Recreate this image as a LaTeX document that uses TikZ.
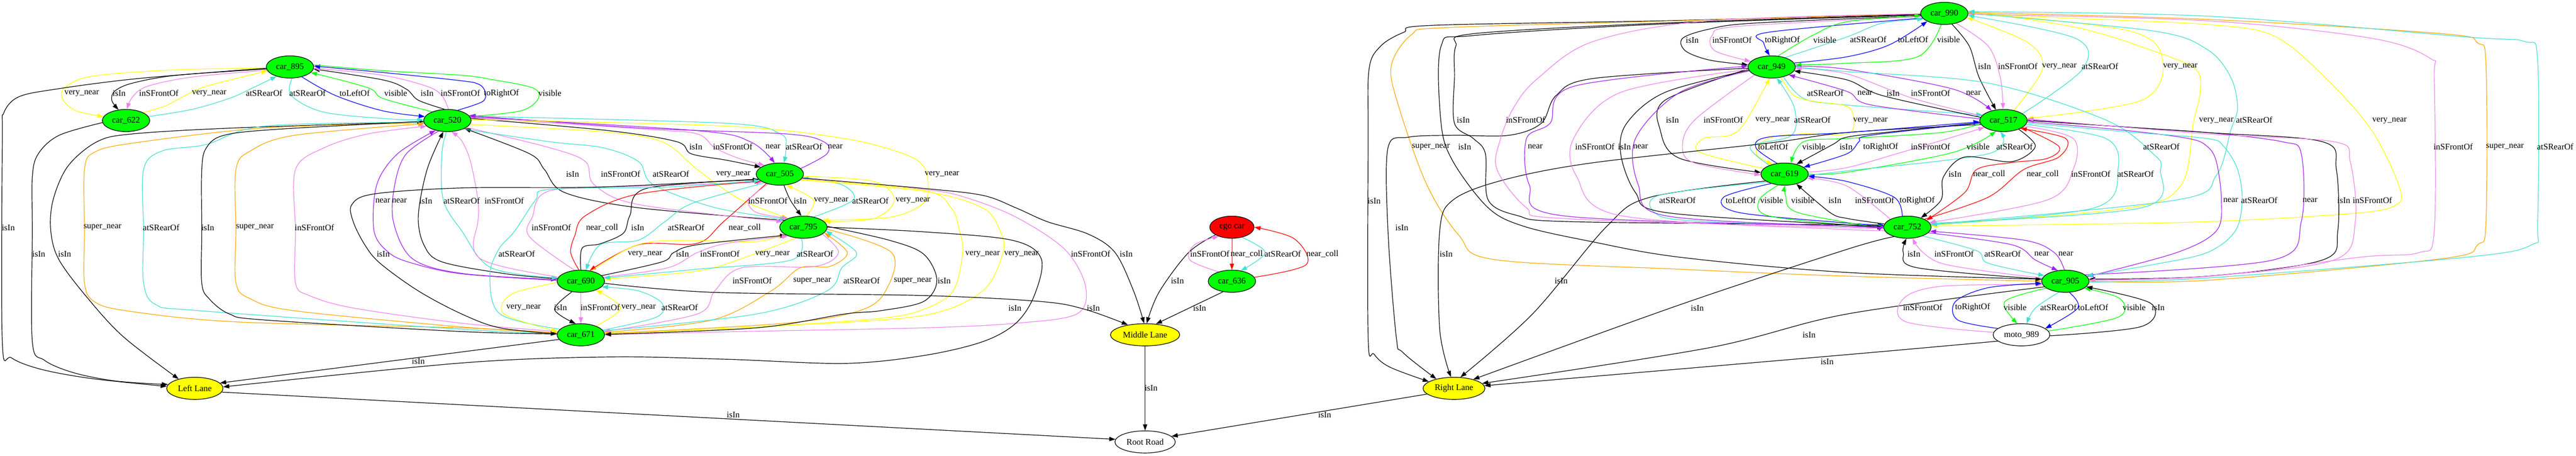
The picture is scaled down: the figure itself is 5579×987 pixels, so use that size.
\documentclass[tikz,border=0pt]{standalone}
\usepackage{fontspec}
\setmainfont{Liberation Serif}
\usetikzlibrary{shapes.geometric,arrows.meta}
\pgfdeclarelayer{edges}
\pgfsetlayers{edges,main}
\definecolor{cGrn}{HTML}{00FF00}
\definecolor{cYel}{HTML}{FFFF00}
\definecolor{cRed}{HTML}{FF0000}
\definecolor{cVio}{HTML}{EE82EE}
\definecolor{cTur}{HTML}{40E0D0}
\definecolor{cOra}{HTML}{FFA500}
\definecolor{cPur}{HTML}{A020F0}
\definecolor{cBlu}{HTML}{0000FF}
\newcounter{lbc}
\newcommand{\myedge}[4]{%
 \begin{pgfonlayer}{edges}\draw[#1] plot[smooth,tension=0.55] coordinates {#2};\end{pgfonlayer}%
 \stepcounter{lbc}\node[lbl] (lab\arabic{lbc}) at (#3) {#4};}
\begin{document}
\begin{tikzpicture}[x=0.75pt,y=-0.75pt,
 nd/.style={ellipse,draw,line width=1pt,inner sep=0pt,minimum height=36pt,font=\fontsize{14}{16}\selectfont},
 car/.style={nd,fill=cGrn,minimum width=77pt},
 lane/.style={nd,fill=cYel},
 lbl/.style={inner sep=0pt,font=\fontsize{14}{16}\selectfont},
 ar/.style={line width=1pt,-{Triangle[length=10pt,width=7pt]}},
 Bk/.style={ar,draw=black}, Yl/.style={ar,draw=cYel}, Vi/.style={ar,draw=cVio},
 Tq/.style={ar,draw=cTur}, Or/.style={ar,draw=cOra}, Pu/.style={ar,draw=cPur},
 Bl/.style={ar,draw=cBlu}, Gr/.style={ar,draw=cGrn}, Rd/.style={ar,draw=cRed}]
\useasboundingbox (0,0) rectangle (5579,987);
\begin{pgfonlayer}{edges}\fill[white] (0,0) rectangle (5579,987);\end{pgfonlayer}
% nodes
\node[car] (n895) at (628,145) {car\_895};
\node[car] (n622) at (273,261) {car\_622};
\node[car] (n520) at (969,261) {car\_520};
\node[car] (n505) at (1689,377) {car\_505};
\node[car] (n795) at (1740,492) {car\_795};
\node[car] (n690) at (1258,609) {car\_690};
\node[car] (n671) at (1258,725) {car\_671};
\node[lane,minimum width=91.5pt] (nLL) at (422,841) {Left Lane};
\node[nd,fill=cRed,minimum width=72pt] (ego) at (2668,492) {ego car};
\node[car] (n636) at (2668,609) {car\_636};
\node[lane,minimum width=112.5pt] (nML) at (2480,725) {Middle Lane};
\node[nd,fill=white,minimum width=98pt] (nRR) at (2480,957) {Root Road};
\node[car] (n990) at (4211,29) {car\_990};
\node[car] (n949) at (3837,145) {car\_949};
\node[car] (n517) at (4339,261) {car\_517};
\node[car] (n619) at (3865,377) {car\_619};
\node[car] (n752) at (4131,492) {car\_752};
\node[car] (n905) at (4473,609) {car\_905};
\node[nd,fill=white,minimum width=92pt] (moto) at (4378,725) {moto\_989};
\node[lane,minimum width=100.5pt] (nRL) at (3149,841) {Right Lane};
% ---- left cluster
\myedge{Yl}{(n895.183) (383,151) (200,165) (140,190) (136,215) (165,240) (n622.170)}{177,202}{very\_near}
\myedge{Bk}{(n895.185) (383,163) (287,180) (249,197) (242,217) (n622.125)}{258,202}{isIn}
\myedge{Vi}{(n895.188) (415,167) (319,187) (287,210) (n622.85)}{344,202}{inSFrontOf}
\myedge{Yl}{(n622.25) (357,230) (395,210) (446,187) (n895.190)}{453,202}{very\_near}
\myedge{Tq}{(n622.10) (415,237) (497,213) (548,190) (n895.215)}{572,202}{atSRearOf}
\myedge{Bk}{(n895.183) (300,170) (121,193) (40,210) (8,245) (5,300) (5,740) (25,775) (90,800) (200,820) (nLL.176)}{18,493}{isIn}
\myedge{Bk}{(n622.185) (128,293) (83,333) (70,383) (70,500) (70,740) (96,780) (159,807) (250,825) (nLL.172)}{84,550}{isIn}
\myedge{Bk}{(n520.183) (510,277) (287,290) (210,307) (147,360) (115,433) (110,500) (128,563) (191,647) (268,730) (nLL.150)}{140,550}{isIn}
\myedge{Or}{(n520.186) (574,277) (287,310) (204,330) (183,367) (183,500) (183,613) (204,653) (274,673) (510,697) (1000,710) (n671.175)}{222,493}{super\_near}
\myedge{Tq}{(n520.184) (574,273) (446,313) (351,327) (311,367) (311,500) (311,613) (338,660) (434,673) (1000,713) (n671.177)}{349,493}{atSRearOf}
\myedge{Bk}{(n671.178) (1000,718) (574,693) (497,680) (453,647) (437,613) (437,500) (437,367) (447,320) (485,293) (600,280) (n520.182)}{450,493}{isIn}
\myedge{Or}{(n671.176) (1000,708) (638,673) (542,647) (511,613) (511,500) (511,367) (542,327) (638,293) (n520.188)}{552,493}{super\_near}
\myedge{Vi}{(n671.172) (1000,700) (765,667) (670,640) (640,613) (640,500) (640,367) (702,320) (797,290) (n520.195)}{681,493}{inSFrontOf}
\myedge{Pu}{(n690.178) (1000,593) (893,570) (842,547) (810,500) (816,400) (861,333) (n520.220)}{829,435}{near}
\myedge{Pu}{(n520.230) (880,333) (855,400) (852,480) (893,560) (1000,592) (n690.176)}{865,435}{near}
\myedge{Bk}{(n690.174) (1096,593) (957,567) (918,530) (906,467) (925,367) (n520.250)}{922,435}{isIn}
\myedge{Tq}{(n520.265) (957,333) (960,433) (1000,500) (1064,580) (n690.172)}{1000,435}{atSRearOf}
\myedge{Vi}{(n690.170) (1100,580) (1040,560) (1025,530) (1035,480) (1035,433) (1019,350) (1000,305) (n520.290)}{1092,435}{inSFrontOf}
\myedge{Tq}{(n895.280) (631,207) (702,243) (850,258) (n520.178)}{666,202}{atSRearOf}
\myedge{Bl}{(n895.320) (727,207) (829,240) (n520.170)}{768,202}{toLeftOf}
\myedge{Gr}{(n520.150) (829,213) (797,190) (n895.345)}{857,202}{visible}
\myedge{Bk}{(n520.105) (906,217) (880,193) (829,173) (n895.355)}{925,202}{isIn}
\myedge{Vi}{(n520.85) (957,207) (925,187) (829,163) (n895.357)}{997,202}{inSFrontOf}
\myedge{Bl}{(n520.45) (1045,220) (1051,200) (1038,183) (1000,175) (829,157) (n895.2)}{1086,202}{toRightOf}
\myedge{Gr}{(n895.5) (829,153) (1000,163) (1064,172) (1153,190) (1166,213) (1128,240) (n520.10)}{1191,202}{visible}
\myedge{Bk}{(n520.5) (1319,283) (1466,307) (1497,333) (1574,347) (n505.160)}{1507,318}{isIn}
\myedge{Vi}{(n520.7) (1400,280) (1510,290) (1548,320) (1600,343) (n505.150)}{1587,318}{inSFrontOf}
\myedge{Pu}{(n520.9) (1510,283) (1625,307) (n505.115)}{1674,318}{near}
\myedge{Tq}{(n520.11) (1574,267) (1690,290) (1702,320) (n505.70)}{1741,318}{atSRearOf}
\myedge{Pu}{(n505.15) (1791,333) (1784,307) (1702,290) (1383,277) (n520.13)}{1809,318}{near}
\myedge{Bk}{(n795.160) (1383,450) (1223,417) (1179,367) (1147,333) (n520.335)}{1240,377}{isIn}
\myedge{Vi}{(n520.340) (1191,320) (1268,350) (1287,400) (1383,443) (n795.165)}{1344,377}{inSFrontOf}
\myedge{Tq}{(n520.332) (1191,307) (1306,320) (1383,350) (1415,400) (1550,450) (n795.155)}{1453,377}{atSRearOf}
\myedge{Yl}{(n520.350) (1300,285) (1434,307) (1510,367) (1600,430) (n795.150)}{1588,377}{very\_near}
\myedge{Yl}{(n520.2) (1574,273) (1829,300) (1957,333) (2000,360) (2010,400) (2000,440) (1930,470) (n795.20)}{2040,377}{very\_near}
\myedge{Vi}{(n690.120) (1147,513) (1153,470) (1191,413) (1400,403) (n505.205)}{1194,493}{inSFrontOf}
\myedge{Rd}{(n690.100) (1236,547) (1245,510) (1268,467) (1383,420) (n505.200)}{1304,493}{near\_coll}
\myedge{Bk}{(n690.90) (1261,537) (1300,528) (1350,505) (1364,467) (1400,408) (n505.195)}{1381,493}{isIn}
\myedge{Tq}{(n505.210) (1500,440) (1440,480) (1383,520) (1300,530) (n690.65)}{1486,493}{atSRearOf}
\myedge{Rd}{(n505.215) (1567,480) (1510,527) (1383,530) (n690.50)}{1613,493}{near\_coll}
\myedge{Vi}{(n505.220) (1622,433) (1638,460) (n795.150)}{1663,435}{inSFrontOf}
\myedge{Bk}{(n505.290) (1712,434) (n795.100)}{1733,435}{isIn}
\myedge{Yl}{(n795.75) (1762,433) (n505.300)}{1800,435}{very\_near}
\myedge{Tq}{(n795.45) (1848,433) (1823,400) (n505.350)}{1885,435}{atSRearOf}
\myedge{Yl}{(n505.355) (1893,393) (1937,433) (1893,473) (n795.15)}{1977,435}{very\_near}
\myedge{Bk}{(n505.193) (1300,405) (1000,407) (810,420) (762,443) (765,480) (790,530) (823,570) (906,630) (1000,680) (1083,710) (n671.178)}{830,550}{isIn}
\myedge{Tq}{(n671.165) (1083,680) (1061,597) (1080,540) (1115,500) (1160,433) (1191,410) (1446,405) (n505.198)}{1119,550}{atSRearOf}
\myedge{Bk}{(n505.350) (2000,408) (2128,423) (2200,450) (2268,480) (2357,507) (2415,547) (2455,630) (nML.95)}{2439,550}{isIn}
\myedge{Vi}{(n505.348) (2000,410) (2089,427) (2200,470) (2306,540) (2351,620) (2332,680) (2200,700) (2000,710) (1600,718) (n671.0)}{2362,550}{inSFrontOf}
\myedge{Yl}{(n505.346) (2000,412) (2060,450) (2078,500) (2085,547) (2064,630) (2000,670) (1900,690) (1600,710) (n671.4)}{2128,550}{very\_near}
\myedge{Yl}{(n505.344) (2000,414) (2128,450) (2166,500) (2172,547) (2128,630) (2000,683) (1700,705) (n671.2)}{2212,550}{very\_near}
\myedge{Yl}{(n690.45) (1357,540) (1415,523) (1510,521) (1638,523) (n795.200)}{1397,550}{very\_near}
\myedge{Bk}{(n690.15) (1434,567) (1459,547) (1510,530) (n795.205)}{1478,550}{isIn}
\myedge{Vi}{(n690.10) (1446,580) (1510,547) (1574,527) (n795.210)}{1559,550}{inSFrontOf}
\myedge{Yl}{(n795.235) (1606,560) (1510,587) (n690.5)}{1673,550}{very\_near}
\myedge{Tq}{(n795.260) (1714,563) (1510,583) (n690.8)}{1765,550}{atSRearOf}
\myedge{Yl}{(n690.183) (1108,637) (1092,680) (n671.172)}{1134,666}{very\_near}
\myedge{Bk}{(n690.230) (1201,670) (n671.115)}{1214,666}{isIn}
\myedge{Vi}{(n690.270) (n671.90)}{1300,666}{inSFrontOf}
\myedge{Yl}{(n671.30) (1344,667) (n690.330)}{1383,666}{very\_near}
\myedge{Tq}{(n671.12) (1421,687) (1434,657) (1383,630) (n690.345)}{1472,666}{atSRearOf}
\myedge{Vi}{(n795.340) (1816,547) (1765,577) (1606,580) (1548,630) (1510,680) (n671.8)}{1629,608}{inSFrontOf}
\myedge{Or}{(n671.6) (1542,693) (1670,630) (1733,580) (1797,577) (1835,547) (n795.345)}{1759,608}{super\_near}
\myedge{Tq}{(n671.10) (1638,680) (1791,630) (1823,580) (1855,547) (n795.350)}{1866,608}{atSRearOf}
\myedge{Or}{(n795.355) (1931,547) (1918,630) (1861,673) (1700,700) (n671.3)}{1977,608}{super\_near}
\myedge{Bk}{(n795.2) (1925,520) (2000,550) (2029,607) (2000,653) (1906,673) (1829,680) (1638,710) (n671.1)}{2045,608}{isIn}
\myedge{Bk}{(n690.355) (1542,633) (2000,640) (2255,653) (2350,670) (nML.150)}{2368,667}{isIn}
\myedge{Bk}{(n671.192) (nLL.12)}{906,782}{isIn}
\myedge{Bk}{(n795.0) (2000,502) (2191,520) (2255,560) (2240,640) (2200,700) (2128,740) (2000,770) (1829,787) (1574,778) (1319,773) (1000,786) (nLL.3)}{2198,667}{isIn}
% ---- middle
\myedge{Bk}{(ego.205) (2574,547) (2510,633) (nML.82)}{2550,608}{isIn}
\myedge{Bk}{(n636.230) (nML.45)}{2598,667}{isIn}
\myedge{Bk}{(nML.270) (nRR.90)}{2493,840}{isIn}
\myedge{Bk}{(nLL.352) (nRR.175)}{1588,898}{isIn}
\myedge{Bk}{(nRL.192) (nRR.12)}{2869,898}{isIn}
\myedge{Rd}{(ego.270) (n636.90)}{2700,550}{near\_coll}
\myedge{Rd}{(n636.10) (2829,573) (2803,517) (ego.0)}{2864,550}{near\_coll}
\myedge{Vi}{(n636.145) (2577,563) (2587,530) (ego.215)}{2620,550}{inSFrontOf}
\myedge{Tq}{(ego.315) (2740,547) (n636.50)}{2778,550}{atSRearOf}
% ---- right cluster
\myedge{Bk}{(n990.182) (3600,45) (3100,55) (3040,70) (2990,100) (2965,150) (2963,300) (2963,730) (2976,767) (3010,795) (nRL.165)}{2976,435}{isIn}
\myedge{Or}{(n990.181) (3600,46) (3128,60) (3057,75) (3013,143) (3030,233) (3090,400) (3160,510) (3236,562) (3638,583) (4000,598) (n905.180)}{3099,318}{super\_near}
\myedge{Bk}{(n990.183) (3600,50) (3191,73) (3153,100) (3150,167) (3150,267) (3191,300) (3217,333) (3223,433) (3287,467) (3400,480) (4000,487) (n752.178)}{3169,260}{isIn}
\myedge{Bk}{(n990.184) (3600,52) (3191,77) (3121,100) (3121,267) (3147,350) (3223,450) (3300,490) (3446,523) (3638,557) (4000,590) (n905.175)}{3172,318}{isIn}
\myedge{Bk}{(n990.186) (3800,50) (3702,63) (3644,83) (3650,110) (3702,130) (n949.175)}{3665,87}{isIn}
\myedge{Vi}{(n990.188) (3765,57) (3708,77) (3714,110) (n949.165)}{3751,87}{inSFrontOf}
\myedge{Bl}{(n990.192) (3829,70) (3820,93) (n949.100)}{3860,87}{toRightOf}
\myedge{Gr}{(n949.60) (3925,77) (4000,47) (n990.185)}{3952,87}{visible}
\myedge{Tq}{(n949.35) (4000,80) (4077,50) (n990.195)}{4046,86}{atSRearOf}
\myedge{Bl}{(n949.10) (4000,123) (4092,97) (n990.205)}{4143,86}{toLeftOf}
\myedge{Gr}{(n990.254) (4153,123) (4000,137) (n949.5)}{4220,86}{visible}
\myedge{Bk}{(n990.305) (4265,100) (4286,167) (n517.125)}{4298,144}{isIn}
\myedge{Vi}{(n990.320) (4306,100) (4332,167) (n517.92)}{4370,144}{inSFrontOf}
\myedge{Yl}{(n517.45) (4423,150) (4393,93) (n990.350)}{4460,144}{very\_near}
\myedge{Tq}{(n517.20) (4510,150) (4495,83) (n990.355)}{4548,144}{atSRearOf}
\myedge{Yl}{(n990.3) (4612,67) (4684,133) (4638,217) (n517.5)}{4722,144}{very\_near}
\myedge{Yl}{(n990.1) (4500,40) (4780,53) (4923,77) (5035,167) (5137,283) (5198,410) (5183,447) (5086,463) (4780,480) (4400,487) (n752.3)}{5175,261}{very\_near}
\myedge{Yl}{(n990.6) (4500,60) (4663,110) (4755,150) (4765,200) (4750,267) (4724,400) (4612,450) (n752.5)}{4800,261}{very\_near}
\myedge{Tq}{(n752.7) (4714,433) (4800,380) (4831,283) (4846,233) (4831,167) (4780,107) (4663,67) (n990.0)}{4882,260}{atSRearOf}
\myedge{Tq}{(n949.320) (3906,213) (3995,227) (n517.165)}{3953,202}{atSRearOf}
\myedge{Yl}{(n949.310) (3886,207) (3931,220) (4000,230) (4015,260) (4000,290) (3900,290) (3829,300) (3803,333) (n619.140)}{4051,261}{very\_near}
\myedge{Yl}{(n619.165) (3682,330) (3689,300) (3746,293) (3778,267) (n949.260)}{3839,260}{very\_near}
\myedge{Tq}{(n619.150) (3791,317) (3880,293) (3886,233) (n949.295)}{3925,260}{atSRearOf}
\myedge{Bk}{(n949.185) (3606,217) (3596,283) (3638,343) (n619.176)}{3622,260}{isIn}
\myedge{Vi}{(n949.205) (3670,260) (3644,317) (3670,353) (n619.182)}{3732,260}{inSFrontOf}
\myedge{Bk}{(n949.183) (3450,170) (3370,207) (3338,267) (3268,293) (3147,293) (3051,297) (3006,320) (3006,500) (3024,730) (3038,763) (nRL.152)}{3036,493}{isIn}
\myedge{Bk}{(n517.190) (4000,287) (3829,310) (3446,353) (3255,390) (3147,433) (3118,500) (3118,713) (nRL.105)}{3132,550}{isIn}
\myedge{Bk}{(n619.200) (3574,427) (3480,490) (3319,680) (nRL.60)}{3381,608}{isIn}
\myedge{Bk}{(n752.215) (4000,540) (3638,660) (nRL.25)}{3676,667}{isIn}
\myedge{Bk}{(n905.195) (4000,680) (3702,753) (nRL.10)}{3918,725}{isIn}
\myedge{Bk}{(moto.195) (4000,768) (nRL.5)}{3957,783}{isIn}
\myedge{Bk}{(n517.172) (4077,207) (4000,173) (n949.350)}{4100,202}{isIn}
\myedge{Vi}{(n517.168) (4143,213) (4000,160) (n949.357)}{4181,202}{inSFrontOf}
\myedge{Pu}{(n949.2) (4000,150) (4230,193) (n517.140)}{4274,202}{near}
\myedge{Pu}{(n517.176) (4051,227) (4000,198) (n949.335)}{4039,202}{near}
\myedge{Tq}{(n949.0) (4000,155) (4306,180) (4561,260) (4663,333) (4679,367) (4638,450) (n752.10)}{4681,318}{atSRearOf}
\myedge{Bl}{(n619.125) (3803,320) (3829,297) (4000,287) (n517.183)}{3840,318}{toLeftOf}
\myedge{Gr}{(n517.188) (4204,287) (4000,300) (3906,307) (n619.60)}{3928,318}{visible}
\myedge{Bk}{(n517.185) (4100,285) (4000,297) (3969,313) (n619.40)}{3998,318}{isIn}
\myedge{Bl}{(n517.186) (4051,293) (4026,307) (4000,333) (n619.20)}{4073,318}{toRightOf}
\myedge{Vi}{(n619.5) (4000,363) (4128,327) (n517.200)}{4181,318}{inSFrontOf}
\myedge{Gr}{(n619.0) (4000,373) (4230,330) (n517.235)}{4284,318}{visible}
\myedge{Tq}{(n619.357) (4000,370) (4306,333) (n517.255)}{4363,318}{atSRearOf}
\myedge{Bk}{(n517.330) (4408,317) (4357,350) (4255,340) (4209,383) (4204,433) (n752.35)}{4234,377}{isIn}
\myedge{Rd}{(n517.340) (4459,317) (4434,343) (4357,352) (4281,367) (4255,417) (n752.20)}{4308,377}{near\_coll}
\myedge{Rd}{(n752.25) (4306,427) (4383,367) (4459,340) (4474,300) (n517.335)}{4424,377}{near\_coll}
\myedge{Vi}{(n517.345) (4490,300) (4490,367) (4434,433) (n752.12)}{4528,377}{inSFrontOf}
\myedge{Tq}{(n517.350) (4561,300) (4587,367) (4536,450) (n752.6)}{4625,377}{atSRearOf}
\myedge{Pu}{(n517.357) (4600,282) (4740,300) (4780,317) (4800,350) (4811,433) (4800,500) (4714,547) (n905.12)}{4831,434}{near}
\myedge{Pu}{(n905.18) (4923,563) (4984,480) (4984,333) (4943,307) (4780,287) (4600,275) (n517.2)}{5003,434}{near}
\myedge{Tq}{(n517.354) (4600,285) (4780,300) (4816,317) (4846,367) (4856,433) (4841,500) (4780,547) (4663,573) (n905.14)}{4893,434}{atSRearOf}
\myedge{Bk}{(n517.0) (4780,287) (5030,307) (5060,367) (5063,500) (5030,563) (4780,598) (n905.5)}{5076,434}{isIn}
\myedge{Vi}{(n905.3) (4780,598) (5055,563) (5101,480) (5090,350) (5055,307) (4780,290) (n517.4)}{5138,434}{inSFrontOf}
\myedge{Vi}{(n990.358) (4780,45) (5137,83) (5264,127) (5272,170) (5272,500) (5239,547) (5111,557) (4780,599) (n905.2)}{5313,318}{inSFrontOf}
\myedge{Or}{(n905.0) (4780,607) (5290,560) (5366,530) (5384,480) (5384,140) (5366,93) (5290,73) (4780,42) (n990.2)}{5425,318}{super\_near}
\myedge{Tq}{(n905.358) (4780,602) (5341,557) (5483,530) (5496,480) (5496,133) (5468,90) (5341,80) (4780,35) (n990.4)}{5534,318}{atSRearOf}
\myedge{Bk}{(n905.175) (4153,580) (4122,547) (n752.265)}{4145,550}{isIn}
\myedge{Vi}{(n905.172) (4204,570) (n752.295)}{4232,550}{inSFrontOf}
\myedge{Tq}{(n752.330) (4281,543) (4306,570) (n905.165)}{4337,550}{atSRearOf}
\myedge{Pu}{(n752.345) (4357,530) (4408,563) (n905.125)}{4422,550}{near}
\myedge{Pu}{(n905.95) (4449,547) (4383,520) (n752.350)}{4474,550}{near}
\myedge{Vi}{(moto.175) (4128,697) (4122,647) (4204,620) (n905.188)}{4164,666}{inSFrontOf}
\myedge{Bl}{(moto.165) (4240,693) (4235,653) (4306,623) (n905.185)}{4272,666}{toRightOf}
\myedge{Gr}{(n905.200) (4342,653) (moto.110)}{4364,666}{visible}
\myedge{Tq}{(n905.240) (4408,667) (moto.65)}{4458,666}{atSRearOf}
\myedge{Bl}{(n905.290) (4500,667) (moto.15)}{4533,666}{toLeftOf}
\myedge{Gr}{(moto.8) (4587,687) (4592,647) (n905.340)}{4622,666}{visible}
\myedge{Bk}{(moto.358) (4638,707) (4658,657) (n905.345)}{4674,666}{isIn}
\myedge{Tq}{(n619.205) (3593,423) (3593,467) (3702,480) (4000,490) (n752.181)}{3633,434}{atSRearOf}
\myedge{Bl}{(n619.215) (3733,427) (3765,460) (4000,483) (n752.175)}{3770,434}{toLeftOf}
\myedge{Gr}{(n619.240) (3810,433) (3829,467) (4000,487) (n752.178)}{3837,434}{visible}
\myedge{Gr}{(n752.183) (3893,460) (3867,423) (n619.272)}{3904,434}{visible}
\myedge{Bk}{(n752.172) (4000,473) (3963,460) (n619.320)}{3974,434}{isIn}
\myedge{Vi}{(n752.155) (4000,403) (n619.350)}{4060,434}{inSFrontOf}
\myedge{Bl}{(n752.115) (4102,427) (4000,393) (n619.355)}{4152,434}{toRightOf}
\myedge{Vi}{(n990.181) (3700,45) (3450,90) (3330,170) (3280,230) (3250,300) (3242,367) (3306,450) (3383,473) (4000,493) (n752.180)}{3304,260}{inSFrontOf}
\myedge{Pu}{(n752.182) (4000,490) (3383,467) (3312,400) (3306,300) (3357,267) (3408,187) (n949.178)}{3325,318}{near}
\myedge{Vi}{(n949.186) (3510,200) (3408,300) (3415,383) (3510,467) (4000,497) (n752.185)}{3454,318}{inSFrontOf}
\myedge{Bk}{(n949.188) (3606,200) (3523,267) (3510,333) (3542,417) (3606,460) (4000,487) (n752.179)}{3518,318}{isIn}
\myedge{Pu}{(n949.190) (3638,200) (3542,300) (3548,400) (3606,467) (4000,490) (n752.177)}{3553,318}{near}
\end{tikzpicture}
\end{document}
